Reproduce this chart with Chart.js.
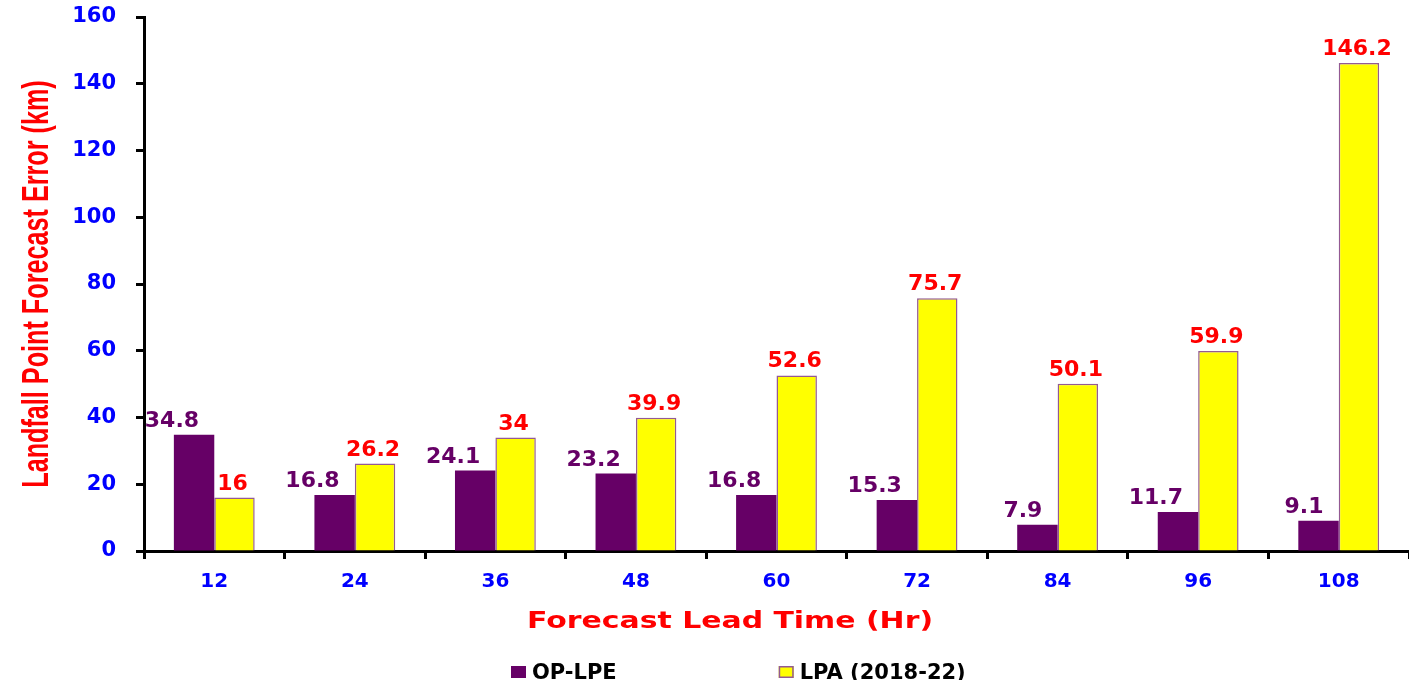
<!DOCTYPE html>
<html>
<head>
<meta charset="utf-8">
<title>Landfall Point Forecast Error</title>
<script src="https://cdn.jsdelivr.net/npm/chart.js@4.4.1/dist/chart.umd.min.js"></script>
<style>
  html, body { margin: 0; padding: 0; background: #ffffff; }
  #wrap { position: relative; width: 1409px; height: 680px; }
</style>
</head>
<body>
<div id="wrap"><canvas id="chart"></canvas></div>
<script>
// Forecast lead times (hours)
const leadTimes = ['12', '24', '36', '48', '60', '72', '84', '96', '108'];
// Operational landfall point error (km)
const opLpe = [34.8, 16.8, 24.1, 23.2, 16.8, 15.3, 7.9, 11.7, 9.1];
// Long-period average 2018-22 (km)
const lpa = [16, 26.2, 34, 39.9, 52.6, 75.7, 50.1, 59.9, 146.2];
const seriesNames = ['OP-LPE', 'LPA (2018-22)'];
const yTitle = 'Landfall Point Forecast Error (km)';
const xTitle = 'Forecast Lead Time (Hr)';

const PURPLE = '#660066';
const YELLOW = '#FFFF00';
const YELLOW_EDGE = '#935a93';
const BLUE = '#0000FF';
const RED = '#FF0000';
const FONT = '"DejaVu Sans", Verdana, sans-serif';

// Value labels above each bar
const barLabels = {
  id: 'barLabels',
  afterDatasetsDraw(chart) {
    const ctx = chart.ctx;
    ctx.save();
    ctx.font = 'bold 22px ' + FONT;
    ctx.textBaseline = 'alphabetic';
    chart.data.datasets.forEach((ds, di) => {
      const meta = chart.getDatasetMeta(di);
      meta.data.forEach((bar, i) => {
        const txt = String(ds.data[i]);
        if (di === 0) {
          ctx.fillStyle = PURPLE;
          ctx.textAlign = 'right';
          ctx.fillText(txt, bar.x + 5, bar.y - 8);
        } else {
          ctx.fillStyle = RED;
          ctx.textAlign = 'center';
          ctx.fillText(txt, bar.x - 2, bar.y - 8);
        }
      });
    });
    ctx.restore();
  }
};

// Axis titles (wide, bold) and the series key at the bottom
const axisText = {
  id: 'axisText',
  afterDraw(chart) {
    const ctx = chart.ctx;
    const area = chart.chartArea;

    // vertical title, condensed along its length
    ctx.save();
    ctx.font = 'bold 36px "Liberation Sans", Arial, sans-serif';
    ctx.fillStyle = RED;
    ctx.textAlign = 'center';
    ctx.textBaseline = 'alphabetic';
    ctx.translate(48, (area.top + area.bottom) / 2);
    ctx.rotate(-Math.PI / 2);
    ctx.scale(0.70, 1);
    ctx.fillText(yTitle, 0, 0);
    ctx.restore();

    // horizontal title, widened
    ctx.save();
    ctx.font = 'bold 23px ' + FONT;
    ctx.fillStyle = RED;
    ctx.textAlign = 'center';
    ctx.textBaseline = 'alphabetic';
    ctx.translate(730, 628);
    ctx.scale(1.3, 1);
    ctx.fillText(xTitle, 0, 0);
    ctx.restore();

    // series key
    ctx.save();
    ctx.font = 'bold 21px ' + FONT;
    ctx.textAlign = 'left';
    ctx.textBaseline = 'alphabetic';
    let x = 511;
    chart.data.datasets.forEach((ds) => {
      ctx.fillStyle = ds.backgroundColor;
      ctx.fillRect(x, 666, 15, 12);
      if (ds.borderWidth) {
        ctx.strokeStyle = ds.borderColor;
        ctx.lineWidth = 1.5;
        ctx.strokeRect(x + 0.75, 666.75, 13.5, 10.5);
      }
      ctx.fillStyle = '#000000';
      ctx.fillText(ds.label, x + 21, 679);
      x += 21 + ctx.measureText(ds.label).width + 162;
    });
    ctx.restore();
  }
};

new Chart(document.getElementById('chart'), {
  type: 'bar',
  data: {
    labels: leadTimes,
    datasets: [
      {
        label: seriesNames[0],
        data: opLpe,
        backgroundColor: PURPLE,
        borderWidth: 0,
        categoryPercentage: 0.575,
        barPercentage: 1.0
      },
      {
        label: seriesNames[1],
        data: lpa,
        backgroundColor: YELLOW,
        borderColor: YELLOW_EDGE,
        borderWidth: 1.5,
        categoryPercentage: 0.575,
        barPercentage: 1.0
      }
    ]
  },
  options: {
    responsive: true,
    maintainAspectRatio: false,
    animation: false,
    layout: { padding: { top: 17, right: 0, bottom: 86, left: 0 } },
    plugins: {
      legend: { display: false },
      tooltip: { enabled: false }
    },
    scales: {
      x: {
        grid: {
          display: true,
          offset: true,
          drawOnChartArea: false,
          drawTicks: true,
          tickLength: 8,
          tickWidth: 3,
          tickColor: '#000000'
        },
        border: { display: true, color: '#000000', width: 3 },
        ticks: {
          color: BLUE,
          font: { family: FONT, size: 20, weight: 'bold' },
          padding: 11,
          maxRotation: 0
        },
        afterFit(scale) { scale.height = 43; }
      },
      y: {
        min: 0,
        max: 160,
        grid: {
          display: true,
          drawOnChartArea: false,
          drawTicks: true,
          tickLength: 8,
          tickWidth: 3,
          tickColor: '#000000'
        },
        border: { display: true, color: '#000000', width: 3 },
        ticks: {
          stepSize: 20,
          color: BLUE,
          font: { family: FONT, size: 21, weight: 'bold' },
          padding: 20
        },
        title: { display: false, text: yTitle },
        afterFit(scale) {
          scale.width = 144;
          scale.paddingTop = 0;
          scale.paddingBottom = 0;
        }
      }
    }
  },
  plugins: [barLabels, axisText]
});
</script>
</body>
</html>
